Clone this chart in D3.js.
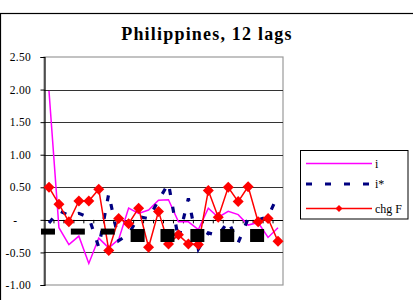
<!DOCTYPE html>
<html>
<head>
  <script src="https://d3js.org/d3.v7.min.js"></script>
  <style>
  body { margin: 0; background: #fff; }
  text { font-family: "Liberation Serif", "Times New Roman", serif; fill: #000; }
  </style>
</head>
<body>
<div id="chart"></div>
<script>
// lags on the category axis (24 points)
var lags = d3.range(24);
var yTicks = [-1, -0.5, 0, 0.5, 1, 1.5, 2, 2.5];

var seriesI = [1.98, -0.12, -0.38, -0.25, -0.67, -0.28, -0.43, -0.30, 0.18, 0.10, 0.15, 0.30,
               0.31, -0.03, -0.03, -0.15, 0.18, 0.04, 0.13, 0.08, -0.08, -0.04, -0.27, -0.12];
var seriesIStar = [-0.05, 0.14, 0.07, 0.10, 0.04, -0.42, 0.40, -0.32, -0.22, 0.05, 0.02, 0.30,
                   0.56, -0.30, 0.33, -0.45, -0.20, -0.24, -0.02, -0.35, 0.02, 0.00, 0.05, 0.38];
var seriesChgF = [0.50, 0.24, -0.03, 0.29, 0.29, 0.47, -0.47, 0.02, -0.06, 0.18, -0.42, 0.13,
                  -0.37, -0.23, -0.37, -0.38, 0.45, 0.04, 0.50, 0.28, 0.51, -0.03, 0.02, -0.33];
// black markers, every third lag
var markLags = [0, 3, 6, 9, 12, 15, 18, 21];
var markVals = [-0.18, -0.18, -0.18, -0.24, -0.24, -0.24, -0.24, -0.24];

var legendNames = ["i", "i*", "chg F"];

var W = 413, H = 300;
var svg = d3.select("#chart").append("svg").attr("width", W).attr("height", H);

// outer chart frame
svg.append("rect").attr("x", 0.5).attr("y", 13.5).attr("width", W + 10).attr("height", H)
  .attr("fill", "none").attr("stroke", "#000").attr("stroke-width", 1.2);

svg.append("text").attr("x", 207).attr("y", 39.5).attr("text-anchor", "middle")
  .style("font-size", "18px").style("font-weight", "bold").style("letter-spacing", "1.2px")
  .text("Philippines, 12 lags");

var x = d3.scaleBand().domain(lags).range([44, 283]);
var y = d3.scaleLinear().domain([-1, 2.5]).range([285, 57]);
var cx = function(d) { return x(d) + x.bandwidth() / 2; };

// plot area border
svg.append("rect").attr("x", 44).attr("y", 57).attr("width", 239).attr("height", 228)
  .attr("fill", "none").attr("stroke", "#9a9a9a").attr("stroke-width", 1.2);

// gridlines
svg.selectAll(".grid").data(yTicks.filter(function(d) { return d !== 0 && d !== -1 && d !== 2.5; }))
  .enter().append("line")
  .attr("x1", 44).attr("x2", 283)
  .attr("y1", function(d) { return Math.round(y(d)) + 0.5; })
  .attr("y2", function(d) { return Math.round(y(d)) + 0.5; })
  .attr("stroke", "#333").attr("stroke-width", 1);

// y axis (ascii hyphen for negatives, dash for zero)
var yAxis = d3.axisLeft(y).tickValues(yTicks).tickSize(4).tickPadding(10)
  .tickFormat(function(d) { return d === 0 ? "-" : d.toFixed(2); });
var ya = svg.append("g").attr("transform", "translate(44.5,0)").call(yAxis);
ya.select(".domain").attr("stroke", "#000").attr("stroke-width", 1.2);
ya.selectAll("line").attr("stroke", "#000");
ya.selectAll("text").style("font-size", "11.5px").style("letter-spacing", "0.3px")
  .attr("x", function(d) { return d === 0 ? -27 : -13.5; });

// zero axis with ticks at category boundaries
svg.append("line").attr("x1", 44).attr("x2", 283)
  .attr("y1", Math.round(y(0)) + 0.5).attr("y2", Math.round(y(0)) + 0.5)
  .attr("stroke", "#000").attr("stroke-width", 1.2);
svg.selectAll(".xt").data(lags.slice(1)).enter().append("line")
  .attr("x1", function(d) { return x(d); }).attr("x2", function(d) { return x(d); })
  .attr("y1", y(0)).attr("y2", y(0) + 3.5)
  .attr("stroke", "#000").attr("stroke-width", 1);

var line = d3.line().x(function(d, i) { return cx(lags[i]); }).y(function(d) { return y(d); });

svg.append("path").datum(seriesI).attr("d", line)
  .attr("fill", "none").attr("stroke", "#ff00ff").attr("stroke-width", 1.5);

svg.append("path").datum(seriesIStar).attr("d", line)
  .attr("fill", "none").attr("stroke", "#000080").attr("stroke-width", 3.2)
  .attr("stroke-dasharray", "6,12");

svg.append("path").datum(seriesChgF).attr("d", line)
  .attr("fill", "none").attr("stroke", "#ff0000").attr("stroke-width", 1.5);

var diamond = function(s) { return "M0," + (-s) + "L" + s + ",0L0," + s + "L" + (-s) + ",0Z"; };
svg.selectAll(".dia").data(seriesChgF).enter().append("path")
  .attr("d", diamond(5.5))
  .attr("transform", function(d, i) { return "translate(" + cx(lags[i]) + "," + y(d) + ")"; })
  .attr("fill", "#ff0000");

// black markers (first three drawn flat)
svg.selectAll(".mk").data(markVals).enter().append("rect")
  .attr("x", function(d, i) { return cx(markLags[i]) - 8; })
  .attr("y", function(d, i) { return y(d) - (i < 3 ? 3 : 6.5); })
  .attr("width", 14)
  .attr("height", function(d, i) { return i < 3 ? 6 : 13; })
  .attr("fill", "#000");

// legend
var lg = svg.append("g");
lg.append("rect").attr("x", 300.5).attr("y", 150.5).attr("width", 107.5).attr("height", 68.5)
  .attr("fill", "#fff").attr("stroke", "#000").attr("stroke-width", 1);
var rows = [163.5, 184, 208.5];
lg.append("line").attr("x1", 306).attr("x2", 372).attr("y1", rows[0]).attr("y2", rows[0])
  .attr("stroke", "#ff00ff").attr("stroke-width", 1.5);
lg.append("line").attr("x1", 306).attr("x2", 374).attr("y1", rows[1]).attr("y2", rows[1])
  .attr("stroke", "#000080").attr("stroke-width", 3.2).attr("stroke-dasharray", "6,13");
lg.append("line").attr("x1", 306).attr("x2", 372).attr("y1", rows[2]).attr("y2", rows[2])
  .attr("stroke", "#ff0000").attr("stroke-width", 1.5);
lg.append("path").attr("d", diamond(3.5)).attr("transform", "translate(339," + rows[2] + ")")
  .attr("fill", "#ff0000");
lg.selectAll(".lt").data(legendNames).enter().append("text")
  .attr("x", 375).attr("y", function(d, i) { return rows[i] + 4; })
  .style("font-size", "12px").text(function(d) { return d; });
</script>
</body>
</html>
